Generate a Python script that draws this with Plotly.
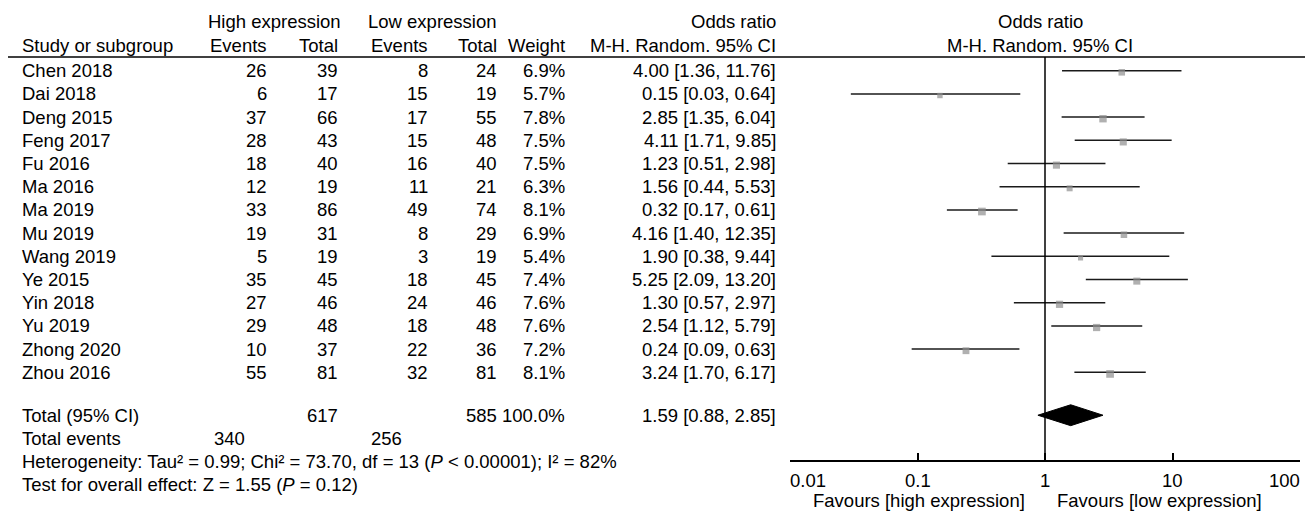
import math
import plotly.graph_objects as go

W, H = 1305, 513

studies = ["Chen 2018", "Dai 2018", "Deng 2015", "Feng 2017", "Fu 2016", "Ma 2016", "Ma 2019",
           "Mu 2019", "Wang 2019", "Ye 2015", "Yin 2018", "Yu 2019", "Zhong 2020", "Zhou 2016"]
high_events = [26, 6, 37, 28, 18, 12, 33, 19, 5, 35, 27, 29, 10, 55]
high_total = [39, 17, 66, 43, 40, 19, 86, 31, 19, 45, 46, 48, 37, 81]
low_events = [8, 15, 17, 15, 16, 11, 49, 8, 3, 18, 24, 18, 22, 32]
low_total = [24, 19, 55, 48, 40, 21, 74, 29, 19, 45, 46, 48, 36, 81]
weights = [6.9, 5.7, 7.8, 7.5, 7.5, 6.3, 8.1, 6.9, 5.4, 7.4, 7.6, 7.6, 7.2, 8.1]
or_est = [4.00, 0.15, 2.85, 4.11, 1.23, 1.56, 0.32, 4.16, 1.90, 5.25, 1.30, 2.54, 0.24, 3.24]
ci_low = [1.36, 0.03, 1.35, 1.71, 0.51, 0.44, 0.17, 1.40, 0.38, 2.09, 0.57, 1.12, 0.09, 1.70]
ci_high = [11.76, 0.64, 6.04, 9.85, 2.98, 5.53, 0.61, 12.35, 9.44, 13.20, 2.97, 5.79, 0.63, 6.17]

total_high = 617
total_low = 585
total_weight = 100.0
total_or = 1.59
total_ci_low = 0.88
total_ci_high = 2.85
events_high_sum = 340
events_low_sum = 256
heterogeneity_text = "Heterogeneity: Tau² = 0.99; Chi² = 73.70, df = 13 (<i>P</i> < 0.00001); I² = 82%"
overall_text = "Test for overall effect: Z = 1.55 (<i>P</i> = 0.12)"
tick_vals = [0.01, 0.1, 1, 10, 100]
tick_labels = ["0.01", "0.1", "1", "10", "100"]
favours_left = "Favours [high expression]"
favours_right = "Favours [low expression]"

# ---- layout geometry (pixels) ----
FONT = dict(family="Liberation Sans, Arial, Helvetica, sans-serif", size=18.5, color="black")
ROW0 = 70.7
STEP = 23.2
TOP_PX = 57
AXIS_PX = 460
PLOT_X0, PLOT_X1 = 790, 1300

n = len(studies)
rows = list(range(n))
total_row = n + 0.85
events_row = total_row + 1
het_row = total_row + 2
test_row = total_row + 3


def row_px(r):
    return ROW0 + r * STEP


def py(p):
    return 1 - p / H


def px(x):
    return x / W


y_top = (TOP_PX - ROW0) / STEP
y_bot = (AXIS_PX - ROW0) / STEP

fig = go.Figure()

# CI lines
xs, ys = [], []
for r, lo, hi in zip(rows, ci_low, ci_high):
    xs += [lo, hi, None]
    ys += [r, r, None]
fig.add_trace(go.Scatter(x=xs, y=ys, mode="lines", line=dict(color="#1a1a1a", width=1.5),
                         hoverinfo="skip"))

# squares
fig.add_trace(go.Scatter(x=or_est, y=[r + 0.07 for r in rows], mode="markers",
                         marker=dict(symbol="square", color="#8f8f8f",
                                     size=[w * 0.95 for w in weights], line=dict(width=0)),
                         hoverinfo="skip"))

# diamond
dh = 0.45
fig.add_trace(go.Scatter(x=[total_ci_low, total_or, total_ci_high, total_or, total_ci_low],
                         y=[total_row, total_row - dh, total_row, total_row + dh, total_row],
                         mode="lines", fill="toself", fillcolor="black",
                         line=dict(color="black", width=1), hoverinfo="skip"))

shapes = [
    # no-effect line
    dict(type="line", xref="x", yref="y domain", x0=1, x1=1, y0=0, y1=1,
         line=dict(color="black", width=1.5)),
    # header rule
    dict(type="line", xref="paper", yref="paper", x0=px(8), x1=1, y0=py(TOP_PX), y1=py(TOP_PX),
         line=dict(color="black", width=1.5)),
]

ann = []


def txt(text, xpx, ypx, anchor="right"):
    ann.append(dict(text=text, x=px(xpx), y=py(ypx), xref="paper", yref="paper",
                    xanchor=anchor, yanchor="middle", showarrow=False, font=FONT,
                    borderpad=0, borderwidth=0))


# column positions (right edges unless noted)
C_STUDY = 22
C_HE, C_HT, C_LE, C_LT, C_W, C_OR = 267, 338, 428, 497, 565, 776
C_PLOT = 1040

# headers
HY1, HY2 = 21, 45
txt("High expression", 208, HY1, "left")
txt("Low expression", 368, HY1, "left")
txt("Odds ratio", C_OR, HY1)
txt("Odds ratio", C_PLOT, HY1, "center")
txt("Study or subgroup", C_STUDY, HY2, "left")
txt("Events", C_HE, HY2)
txt("Total", C_HT, HY2)
txt("Events", C_LE, HY2)
txt("Total", C_LT, HY2)
txt("Weight", C_W, HY2)
txt("M-H. Random. 95% CI", C_OR, HY2)
txt("M-H. Random. 95% CI", C_PLOT, HY2, "center")

# study rows
for r in rows:
    y = row_px(r)
    txt(studies[r], C_STUDY, y, "left")
    txt(str(high_events[r]), C_HE, y)
    txt(str(high_total[r]), C_HT, y)
    txt(str(low_events[r]), C_LE, y)
    txt(str(low_total[r]), C_LT, y)
    txt(f"{weights[r]:.1f}%", C_W, y)
    txt(f"{or_est[r]:.2f} [{ci_low[r]:.2f}, {ci_high[r]:.2f}]", C_OR, y)

# totals
y = row_px(total_row)
txt("Total (95% CI)", C_STUDY, y, "left")
txt(str(total_high), C_HT, y)
txt(str(total_low), C_LT, y)
txt(f"{total_weight:.1f}%", C_W, y)
txt(f"{total_or:.2f} [{total_ci_low:.2f}, {total_ci_high:.2f}]", C_OR, y)
y = row_px(events_row)
txt("Total events", C_STUDY, y, "left")
txt(str(events_high_sum), 245, y)
txt(str(events_low_sum), 402, y)
txt(heterogeneity_text, C_STUDY, row_px(het_row), "left")
txt(overall_text, C_STUDY, row_px(test_row), "left")

# axis tick labels (placed on the log axis scale: annotation x is log10 of the value)
TICK_Y = 480
for i, (v, lab) in enumerate(zip(tick_vals, tick_labels)):
    anchor = "left" if i == 0 else ("right" if i == len(tick_vals) - 1 else "center")
    ann.append(dict(text=lab, x=math.log10(v), xref="x", y=py(TICK_Y), yref="paper",
                    xanchor=anchor, yanchor="middle", showarrow=False, font=FONT,
                    borderpad=0, borderwidth=0))
FAV_Y = 500
txt(favours_left, 1025, FAV_Y)
txt(favours_right, 1057, FAV_Y, "left")

fig.update_layout(
    width=W, height=H, margin=dict(l=0, r=0, t=0, b=0),
    paper_bgcolor="white", plot_bgcolor="white", showlegend=False,
    shapes=shapes, annotations=ann,
    xaxis=dict(type="log", range=[-2, 2], domain=[px(PLOT_X0), px(PLOT_X1)],
               tickvals=tick_vals, showticklabels=False, ticks="inside", ticklen=7,
               tickwidth=1.5, tickcolor="black", showline=True, linecolor="black", linewidth=1.5,
               showgrid=False, zeroline=False, anchor="y"),
    yaxis=dict(range=[y_bot, y_top], domain=[py(AXIS_PX), py(TOP_PX)], visible=False,
               showgrid=False, zeroline=False),
)

fig.write_html("out.html")
